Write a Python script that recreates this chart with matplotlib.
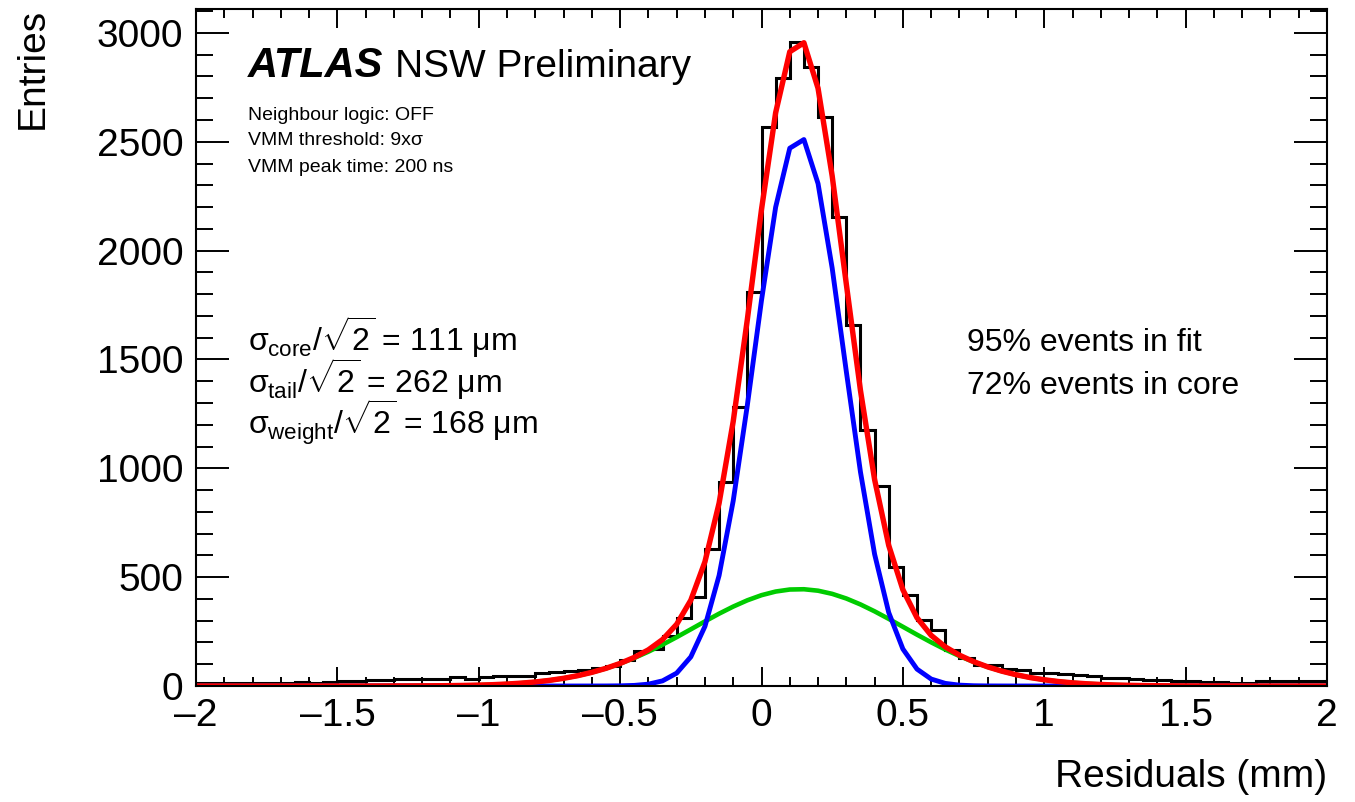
import numpy as np
import matplotlib
matplotlib.use("Agg")
import matplotlib.pyplot as plt
from matplotlib.ticker import MultipleLocator, FuncFormatter

plt.rcParams["font.family"] = ["Liberation Sans", "DejaVu Sans"]
plt.rcParams["mathtext.fontset"] = "custom"
plt.rcParams["mathtext.rm"] = "Liberation Sans"
plt.rcParams["mathtext.it"] = "Liberation Sans"
plt.rcParams["mathtext.bf"] = "Liberation Sans:bold"

W, H = 1355, 802

# histogram: 80 bins of 0.05 mm from -2 to 2
bin_edges = np.linspace(-2, 2, 81)
entries = [
    14, 13, 15, 14, 16, 15, 16, 17, 16, 18,
    22, 24, 27, 27, 30, 31, 30, 32, 40, 34,
    43, 44, 46, 47, 58, 66, 68, 73, 82, 90,
    119, 162, 172, 230, 311, 407, 628, 938, 1283, 1811,
    2569, 2791, 2960, 2845, 2615, 2156, 1658, 1176, 919, 548,
    420, 303, 255, 165, 127, 98, 95, 80, 73, 62,
    58, 55, 50, 46, 37, 35, 30, 28, 26, 24,
    22, 20, 18, 16, 15, 22, 23, 24, 23, 22,
]

# fit curves read at x = -2, -1.95, ..., 2
fit_x = np.linspace(-2, 2, 81)
fit_core = [
    0, 0, 0, 0, 0, 0, 0, 0, 0, 0,
    0, 0, 0, 0, 0, 0, 0, 0, 0, 0,
    0, 0, 0, 0, 0, 0, 0, 0, 0.05, 0.2,
    0.8, 2.8, 8.5, 23.6, 59.1, 133.8, 274.0, 507.6, 851.0, 1290.8,
    1771.8, 2199.5, 2470.5, 2510.4, 2307.9, 1919.5, 1444.3, 983.2, 605.5, 337.3,
    170.1, 77.6, 32.0, 12.0, 4.0, 1.2, 0.3, 0.1, 0, 0,
    0, 0, 0, 0, 0, 0, 0, 0, 0, 0,
    0, 0, 0, 0, 0, 0, 0, 0, 0, 0,
    0,
]
fit_tail = [
    0, 0, 0, 0, 0, 0, 0, 0, 0, 0,
    0, 0, 0, 0.1, 0.3, 0.4, 0.7, 1.1, 1.7, 2.7,
    4.1, 6.1, 9.0, 13.1, 18.5, 25.8, 35.3, 47.4, 62.6, 81.0,
    103.0, 128.6, 157.7, 189.8, 224.4, 260.4, 296.8, 332.2, 364.9, 393.7,
    417.2, 433.9, 443.2, 444.5, 437.8, 423.3, 401.9, 374.7, 343.0, 308.3,
    272.1, 235.8, 200.7, 167.7, 137.6, 110.8, 87.6, 68.1, 51.9, 38.8,
    28.6, 20.6, 14.6, 10.2, 7.0, 4.7, 3.1, 2.0, 1.3, 0.8,
    0.5, 0.3, 0.2, 0.1, 0, 0, 0, 0, 0, 0,
    0,
]
fit_total = [
    0, 0, 0, 0, 0, 0, 0, 0, 0, 0,
    0, 0, 0, 0.1, 0.3, 0.4, 0.7, 1.1, 1.7, 2.7,
    4.1, 6.1, 9.0, 13.1, 18.5, 25.8, 35.3, 47.4, 62.7, 81.2,
    103.8, 131.4, 166.2, 213.4, 283.5, 394.2, 570.8, 839.8, 1215.9, 1684.5,
    2189.0, 2633.4, 2913.7, 2954.9, 2745.7, 2342.8, 1846.2, 1357.9, 948.5, 645.6,
    442.2, 313.4, 232.7, 179.7, 141.6, 112.0, 87.9, 68.2, 51.9, 38.8,
    28.6, 20.6, 14.6, 10.2, 7.0, 4.7, 3.1, 2.0, 1.3, 0.8,
    0.5, 0.3, 0.2, 0.1, 0, 0, 0, 0, 0, 0,
    0,
]

fig = plt.figure(figsize=(W / 100, H / 100), dpi=100)
ax = fig.add_axes([196 / W, 1 - 686 / H, (1327 - 196) / W, (686 - 9) / H])

ax.stairs(entries, bin_edges, color="black", lw=2.2)
ax.plot(fit_x, fit_tail, color="#00cc00", lw=3.3, solid_capstyle="butt")
ax.plot(fit_x, fit_core, color="#0000ff", lw=3.5, solid_capstyle="butt")
ax.plot(fit_x, fit_total, color="#ff0000", lw=3.9, solid_capstyle="butt")

ax.set_xlim(-2, 2)
ax.set_ylim(0, 3110)

ax.xaxis.set_major_locator(MultipleLocator(0.5))
ax.xaxis.set_minor_locator(MultipleLocator(0.1))
ax.yaxis.set_major_locator(MultipleLocator(500))
ax.yaxis.set_minor_locator(MultipleLocator(100))
ax.xaxis.set_major_formatter(FuncFormatter(lambda v, p: f"{v:g}".replace("-", "\u2013")))

ax.tick_params(which="both", direction="in", top=True, right=True, width=1.4, labelsize=28)
ax.tick_params(axis="x", which="major", length=13.7, pad=9)
ax.tick_params(axis="x", which="minor", length=6.8)
ax.tick_params(axis="y", which="major", length=24, pad=9)
ax.tick_params(axis="y", which="minor", length=12)
for s in ax.spines.values():
    s.set_linewidth(1.5)

def ftext(x, y, s, **kw):
    fig.text(x / W, 1 - y / H, s, **kw)

ftext(1327, 787, "Residuals (mm)", fontsize=28, ha="right", va="baseline")
ftext(33, 8, "Entries", fontsize=28, rotation=90, ha="center", va="top")

ftext(248, 77, "ATLAS", fontsize=30, fontweight="bold", fontstyle="italic", va="baseline")
ftext(395, 77, "NSW Preliminary", fontsize=28, va="baseline")
ftext(248, 120, "Neighbour logic: OFF", fontsize=14, va="baseline")
ftext(248, 145, "VMM threshold: 9x\u03c3", fontsize=14, va="baseline")
ftext(248, 172, "VMM peak time: 200 ns", fontsize=14, va="baseline")

mu = "\u03bcm"
ftext(248, 351, r"$\sigma_{\mathrm{core}}/\sqrt{2}$ = 111 " + mu, fontsize=23, va="baseline")
ftext(248, 393, r"$\sigma_{\mathrm{tail}}/\sqrt{2}$ = 262 " + mu, fontsize=23, va="baseline")
ftext(248, 435, r"$\sigma_{\mathrm{weight}}/\sqrt{2}$ = 168 " + mu, fontsize=23, va="baseline")

ftext(967, 351, "95% events in fit", fontsize=23, va="baseline")
ftext(967, 394, "72% events in core", fontsize=23, va="baseline")

fig.savefig("out.png", dpi=100)
plt.close(fig)
